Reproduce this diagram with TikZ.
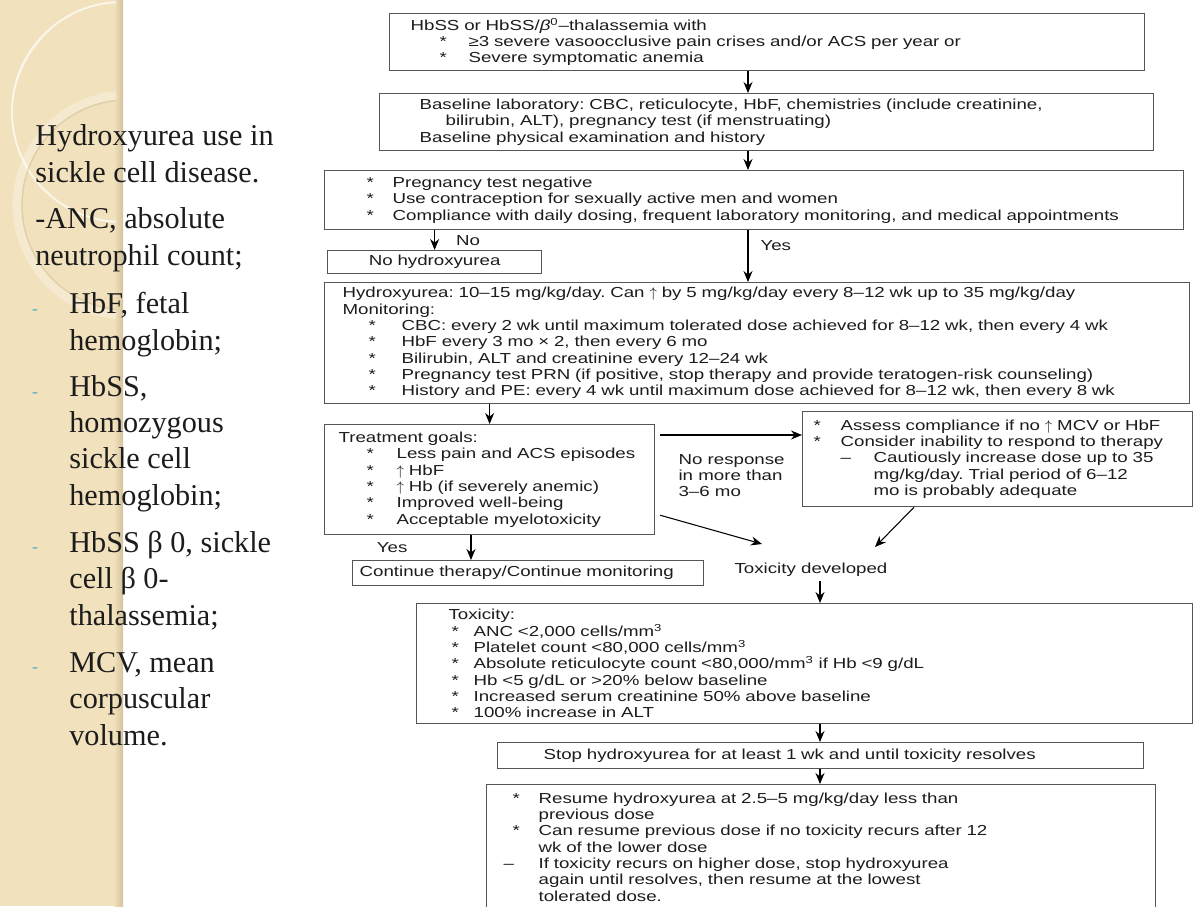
\documentclass[tikz,border=0pt]{standalone}
\usepackage{fontspec}
\setmainfont{Liberation Serif}
\newfontfamily\chartfont[FakeStretch=1.29]{Liberation Sans}
\usetikzlibrary{arrows.meta, positioning}
\newlength\pxu
\setlength\pxu{0.02cm}
\setlength\parindent{0pt}
\frenchspacing
\definecolor{panelbeige}{RGB}{241,225,188}
\definecolor{paneledge}{RGB}{212,194,155}
\definecolor{dashteal}{RGB}{75,172,198}
\definecolor{boxline}{RGB}{85,85,85}
\definecolor{inktext}{RGB}{28,28,28}
% bullet / dash with fixed indents (in px units)
\newcommand\bul[2]{\makebox[#2\pxu][l]{\hspace*{#1\pxu}*}}
\newcommand\dsh[2]{\makebox[#2\pxu][l]{\hspace*{#1\pxu}–}}
\newcommand\ind[1]{\hspace*{#1\pxu}}
\newcommand\incr{$\uparrow$}

\begin{document}
\begin{tikzpicture}[x=0.02cm, y=-0.02cm,
        box/.style={draw=boxline, line width=0.7pt, anchor=north west, inner ysep=0pt, align=left, text=inktext, font=\chartfont\fontsize{8.25}{9.3}\selectfont},
        note/.style={inner sep=0pt, align=left, text=inktext, font=\chartfont\fontsize{8.25}{9.3}\selectfont},
        side/.style={inner sep=0pt, anchor=base west, align=left, text=inktext, font=\fontsize{17.2}{20.5}\selectfont},
        sidedash/.style={inner sep=0pt, anchor=base, text=dashteal, font=\fontsize{10}{10}\selectfont},
        arrow/.style={-{Stealth[length=2.2mm,width=1.8mm]}, line width=0.6pt}
    ]
    \useasboundingbox (0,0) rectangle (1200,906);
    \clip (0,0) rectangle (1200,906);

    % left panel
    \fill[panelbeige] (0,0) rectangle (123,906);
    \shade[left color=panelbeige, right color=paneledge] (114,0) rectangle (123,906);
    \begin{scope}
        \clip (0,0) rectangle (116,906);
        \draw[white, opacity=.7, line width=1.1pt] (122,112) circle [radius=110\pxu];
        \begin{scope}
            \clip (122,112) circle [radius=110\pxu];
            \fill[white, opacity=.25, even odd rule] (0,0) rectangle (123,906) (150,130) circle [radius=141\pxu];
        \end{scope}
        \draw[white, opacity=.3, line width=5pt] (127,205) circle [radius=110\pxu];
        \draw[paneledge, opacity=.6, line width=.8pt] (127,205) circle [radius=105\pxu];
    \end{scope}

    % side notes (anchored at the baseline of their last line)
    \node[side] (title) at (35,182) {Hydroxyurea use in\\sickle cell disease.};
    \node[side] (anc) at (35,265) {-ANC, absolute\\neutrophil count;};
    \node[side] (hbf) at (69,350) {HbF, fetal\\hemoglobin;};
    \node[side] (hbss) at (69,505) {HbSS,\\homozygous\\sickle cell\\hemoglobin;};
    \node[side] (hbssb) at (69,625) {HbSS β 0, sickle\\cell β 0-\\thalassemia;};
    \node[side] (mcv) at (69,745) {MCV, mean\\corpuscular\\volume.};
    \foreach \yy [count=\i] in {314,397,552,672}
        \node[sidedash] (dash\i) at (35,\yy) {-};

    % flowchart boxes
    \node[box, minimum width=755\pxu, minimum height=57\pxu, text width=713\pxu, inner xsep=21\pxu] (crit) at (389,13)
        {HbSS or HbSS/\textit{β}\textsuperscript{0}–thalassemia with\\
         \bul{29}{58}≥3 severe vasoocclusive pain crises and/or ACS per year or\\
         \bul{29}{58}Severe symptomatic anemia};
    \node[box, minimum width=774\pxu, minimum height=57\pxu, text width=694\pxu, inner xsep=40\pxu] (base) at (379,93)
        {Baseline laboratory: CBC, reticulocyte, HbF, chemistries (include creatinine,\\
         \ind{26}bilirubin, ALT), pregnancy test (if menstruating)\\
         Baseline physical examination and history};
    \node[box, minimum width=859\pxu, minimum height=59\pxu, text width=825\pxu, inner xsep=17\pxu] (cons) at (324,170)
        {\bul{25}{51}Pregnancy test negative\\
         \bul{25}{51}Use contraception for sexually active men and women\\
         \bul{25}{51}Compliance with daily dosing, frequent laboratory monitoring, and medical appointments};
    \node[box, minimum width=214\pxu, minimum height=23\pxu, text width=200\pxu, inner xsep=7\pxu, align=center] (nohu) at (327,250)
        {No hydroxyurea};
    \node[box, minimum width=865\pxu, minimum height=121\pxu, text width=829\pxu, inner xsep=18\pxu] (dose) at (324,282)
        {Hydroxyurea: 10–15 mg/kg/day. Can \incr{} by 5 mg/kg/day every 8–12 wk up to 35 mg/kg/day\\
         Monitoring:\\
         \bul{26}{59}CBC: every 2 wk until maximum tolerated dose achieved for 8–12 wk, then every 4 wk\\
         \bul{26}{59}HbF every 3 mo × 2, then every 6 mo\\
         \bul{26}{59}Bilirubin, ALT and creatinine every 12–24 wk\\
         \bul{26}{59}Pregnancy test PRN (if positive, stop therapy and provide teratogen-risk counseling)\\
         \bul{26}{59}History and PE: every 4 wk until maximum dose achieved for 8–12 wk, then every 8 wk};
    \node[box, minimum width=330\pxu, minimum height=110\pxu, text width=302\pxu, inner xsep=14\pxu] (goals) at (324,424)
        {Treatment goals:\\
         \bul{28}{58}Less pain and ACS episodes\\
         \bul{28}{58}\incr{} HbF\\
         \bul{28}{58}\incr{} Hb (if severely anemic)\\
         \bul{28}{58}Improved well-being\\
         \bul{28}{58}Acceptable myelotoxicity};
    \node[box, minimum width=351\pxu, minimum height=25\pxu, text width=337\pxu, inner xsep=7\pxu] (cont) at (352,560)
        {Continue therapy/Continue monitoring};
    \node[box, minimum width=390\pxu, minimum height=95\pxu, text width=368\pxu, inner xsep=11\pxu] (assess) at (802,411)
        {\bul{0}{27}Assess compliance if no \incr{} MCV or HbF\\
         \bul{0}{27}Consider inability to respond to therapy\\
         \ind{27}\dsh{0}{33}Cautiously increase dose up to 35\\
         \ind{60}mg/kg/day. Trial period of 6–12\\
         \ind{60}mo is probably adequate};
    \node[note] (toxdev) at (811,570) {Toxicity developed};
    \node[box, minimum width=776\pxu, minimum height=120\pxu, text width=712\pxu, inner xsep=32\pxu] (tox) at (416,603)
        {Toxicity:\\
         \bul{3}{25}ANC <2,000 cells/mm\textsuperscript{3}\\
         \bul{3}{25}Platelet count <80,000 cells/mm\textsuperscript{3}\\
         \bul{3}{25}Absolute reticulocyte count <80,000/mm\textsuperscript{3} if Hb <9 g/dL\\
         \bul{3}{25}Hb <5 g/dL or >20\% below baseline\\
         \bul{3}{25}Increased serum creatinine 50\% above baseline\\
         \bul{3}{25}100\% increase in ALT};
    \node[box, minimum width=646\pxu, minimum height=26\pxu, text width=554\pxu, inner xsep=46\pxu] (stop) at (497,742)
        {Stop hydroxyurea for at least 1 wk and until toxicity resolves};
    \node[box, minimum width=669\pxu, minimum height=125\pxu, text width=641\pxu, inner xsep=14\pxu] (resume) at (486,784)
        {\bul{12}{38}Resume hydroxyurea at 2.5–5 mg/kg/day less than\\
         \ind{38}previous dose\\
         \bul{12}{38}Can resume previous dose if no toxicity recurs after 12\\
         \ind{38}wk of the lower dose\\
         \ind{38}\dsh{-35}{0}If toxicity recurs on higher dose, stop hydroxyurea\\
         \ind{38}again until resolves, then resume at the lowest\\
         \ind{38}tolerated dose.};

    % connectors
    \coordinate (colA) at (748,0);
    \coordinate (colB) at (820,0);
    \coordinate (tin1) at (762,544);
    \coordinate (tin2) at (875,547);
    \draw[arrow] (crit.south -| colA) -- (base.north -| colA);
    \draw[arrow] (base.south -| colA) -- (cons.north -| colA);
    \draw[arrow] (cons.south -| nohu.north) -- node[note, right=21\pxu] {No} (nohu.north);
    \draw[arrow] (cons.south -| colA) -- node[note, pos=0.3, right=12\pxu] {Yes} (dose.north -| colA);
    \draw[arrow] (dose.south -| goals.north) -- (goals.north);
    \draw[arrow] ([xshift=147\pxu]goals.south west) coordinate (gy) -- node[note, left=63\pxu] {Yes} (cont.north -| gy);
    \draw[arrow] ([shift={(5,11)}]goals.north east) coordinate (gn) -- (gn -| assess.west);
    \node[note, right=23\pxu of goals.east, yshift=4\pxu] (noresp) {No response\\in more than\\3–6 mo};
    \draw[arrow] ([shift={(5,-20)}]goals.south east) -- (tin1);
    \draw[arrow] ([xshift=112\pxu]assess.south west) -- (tin2);
    \draw[arrow, shorten <=4\pxu] (toxdev.south -| colB) -- (tox.north -| colB);
    \draw[arrow] (tox.south -| colB) -- (stop.north -| colB);
    \draw[arrow] (stop.south -| colB) -- (resume.north -| colB);
\end{tikzpicture}
\end{document}
